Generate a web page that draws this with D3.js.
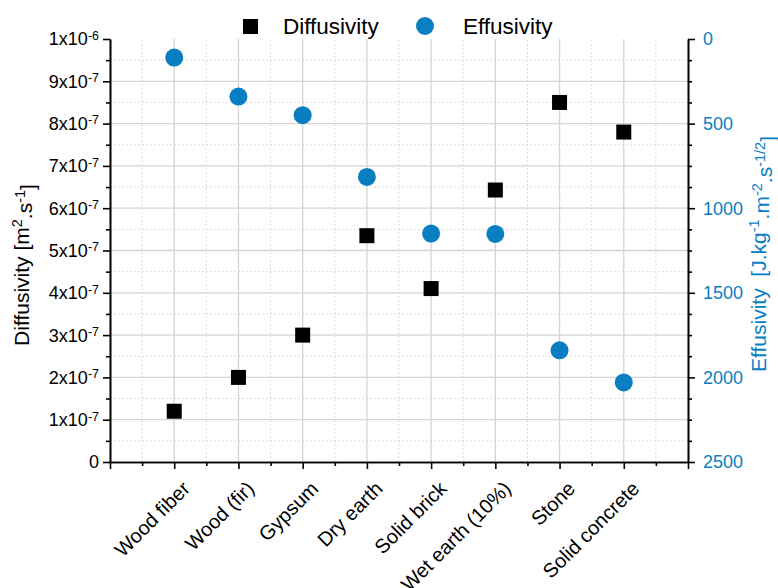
<!DOCTYPE html>
<html>
<head>
<meta charset="utf-8">
<script src="https://cdn.jsdelivr.net/npm/d3@7"></script>
<style>
  body { margin: 0; background: #fff; }
  svg { font-family: "Liberation Sans", Arial, sans-serif; }
</style>
</head>
<body>
<script>
// data
const materials = ["Wood fiber", "Wood (fir)", "Gypsum", "Dry earth", "Solid brick", "Wet earth (10%)", "Stone", "Solid concrete"];
const diffusivity = [1.2e-7, 2.0e-7, 3.0e-7, 5.35e-7, 4.1e-7, 6.43e-7, 8.5e-7, 7.8e-7];
const effusivity = [110, 340, 450, 815, 1150, 1152, 1840, 2030];
const leftTicks = [0, 1e-7, 2e-7, 3e-7, 4e-7, 5e-7, 6e-7, 7e-7, 8e-7, 9e-7, 1e-6];
const rightTicks = [0, 500, 1000, 1500, 2000, 2500];

const width = 778,
      height = 588,
      plotLeft = 110, plotRight = 688, plotTop = 39, plotBottom = 462,
      blue = "#0a7ec2",
      gridColor = "#d4d4d4";

const svg = d3.select("body").append("svg")
  .attr("width", width)
  .attr("height", height);

const x = d3.scaleLinear().domain([0, 9]).range([plotLeft, plotRight]);
const yL = d3.scaleLinear().domain([0, 1e-6]).range([plotBottom, plotTop]);
const yR = d3.scaleLinear().domain([0, 2500]).range([plotTop, plotBottom]);

const halves = d3.range(0.5, 9, 1);
const cats = d3.range(1, 9);

// grid -----------------------------------------------------------
const grid = svg.append("g");
grid.selectAll(".vmin").data(halves).enter().append("line")
  .attr("x1", d => x(d)).attr("x2", d => x(d))
  .attr("y1", plotBottom).attr("y2", plotTop)
  .attr("stroke", "#dedede").attr("stroke-dasharray", "2,2");
grid.selectAll(".hmin").data(d3.range(0.5e-7, 1e-6, 1e-7)).enter().append("line")
  .attr("x1", plotLeft).attr("x2", plotRight)
  .attr("y1", d => yL(d)).attr("y2", d => yL(d))
  .attr("stroke", "#dedede").attr("stroke-dasharray", "2,2");
grid.selectAll(".vmaj").data(cats).enter().append("line")
  .attr("x1", d => x(d)).attr("x2", d => x(d))
  .attr("y1", plotBottom).attr("y2", plotTop)
  .attr("stroke", gridColor).attr("stroke-width", 1.3);
grid.selectAll(".hmaj").data(leftTicks.slice(1, -1)).enter().append("line")
  .attr("x1", plotLeft).attr("x2", plotRight)
  .attr("y1", d => yL(d)).attr("y2", d => yL(d))
  .attr("stroke", gridColor).attr("stroke-width", 1.3);

// axes -----------------------------------------------------------
const axisStroke = g => g.selectAll("line, path").attr("stroke", "#000").attr("stroke-width", 1.6);

// x axis
const gx = svg.append("g").attr("transform", `translate(0,${plotBottom})`);
gx.call(d3.axisBottom(x).tickValues(halves).tickSize(4).tickFormat("").tickSizeOuter(0));
gx.append("g").call(d3.axisBottom(x).tickValues(d3.range(0, 10)).tickSize(7).tickFormat("").tickSizeOuter(0));
gx.call(axisStroke);
gx.selectAll(".xlab").data(cats).enter().append("text")
  .attr("transform", d => `translate(${x(d) + 7},18) rotate(-45)`)
  .attr("text-anchor", "end")
  .attr("dy", "0.7em")
  .attr("font-size", 20)
  .attr("fill", "#000")
  .text(d => materials[d - 1]);

// left axis
const gl = svg.append("g").attr("transform", `translate(${plotLeft},0)`);
gl.call(d3.axisLeft(yL).tickValues(d3.range(0.5e-7, 1e-6, 1e-7)).tickSize(4).tickFormat("").tickSizeOuter(0));
gl.append("g").call(d3.axisLeft(yL).tickValues(leftTicks).tickSize(7).tickFormat("").tickSizeOuter(0));
gl.call(axisStroke);
const ll = gl.selectAll(".ylab").data(leftTicks).enter().append("text")
  .attr("x", -11)
  .attr("y", d => yL(d))
  .attr("dy", "0.36em")
  .attr("text-anchor", "end")
  .attr("font-size", 18)
  .attr("fill", "#000");
ll.each(function(d) {
  const t = d3.select(this);
  if (d === 0) { t.text("0"); return; }
  const e = Math.floor(Math.log10(d) + 1e-9);
  const m = Math.round(d / Math.pow(10, e));
  t.append("tspan").text(m + "x10");
  t.append("tspan").attr("dy", "-0.45em").attr("font-size", 12.5).text(e);
});

// right axis
const gr = svg.append("g").attr("transform", `translate(${plotRight},0)`);
gr.call(d3.axisRight(yR).tickValues(d3.range(125, 2500, 125).filter(d => d % 500)).tickSize(4).tickFormat("").tickSizeOuter(0));
gr.append("g").call(d3.axisRight(yR).tickValues(rightTicks).tickSize(7).tickFormat("").tickSizeOuter(0));
gr.call(axisStroke);
gr.selectAll(".rlab").data(rightTicks).enter().append("text")
  .attr("x", 15)
  .attr("y", d => yR(d))
  .attr("dy", "0.36em")
  .attr("font-size", 18)
  .attr("fill", blue)
  .text(d => d);

// axis titles
const tl = svg.append("text")
  .attr("transform", "translate(29,265) rotate(-90)")
  .attr("text-anchor", "middle")
  .attr("font-size", 21)
  .attr("fill", "#000");
tl.append("tspan").text("Diffusivity [m");
tl.append("tspan").attr("dy", "-0.45em").attr("font-size", 14.5).text("2");
tl.append("tspan").attr("dy", "0.45em").text(".s");
tl.append("tspan").attr("dy", "-0.45em").attr("font-size", 14.5).text("-1");
tl.append("tspan").attr("dy", "0.45em").text("]");

const tr = svg.append("text")
  .attr("transform", "translate(766,254) rotate(-90)")
  .attr("text-anchor", "middle")
  .attr("font-size", 21)
  .attr("fill", blue)
  .attr("xml:space", "preserve");
tr.append("tspan").text("Effusivity  [J.kg");
tr.append("tspan").attr("dy", "-0.45em").attr("font-size", 14.5).text("-1");
tr.append("tspan").attr("dy", "0.45em").text(".m");
tr.append("tspan").attr("dy", "-0.45em").attr("font-size", 14.5).text("-2");
tr.append("tspan").attr("dy", "0.45em").text(".s");
tr.append("tspan").attr("dy", "-0.45em").attr("font-size", 14.5).text("-1/2");
tr.append("tspan").attr("dy", "0.45em").text("]");

// points ---------------------------------------------------------
const sq = 15;
svg.append("g").selectAll("rect").data(diffusivity).enter().append("rect")
  .attr("x", (d, i) => x(i + 1) - sq / 2)
  .attr("y", d => yL(d) - sq / 2)
  .attr("width", sq).attr("height", sq)
  .attr("fill", "#000");

svg.append("g").selectAll("circle").data(effusivity).enter().append("circle")
  .attr("cx", (d, i) => x(i + 1))
  .attr("cy", d => yR(d))
  .attr("r", 9)
  .attr("fill", blue);

// legend ---------------------------------------------------------
const lg = svg.append("g");
lg.append("rect").attr("x", 243).attr("y", 19).attr("width", 15).attr("height", 15).attr("fill", "#000");
lg.append("text").attr("x", 283).attr("y", 34).attr("font-size", 22.5).text("Diffusivity");
lg.append("circle").attr("cx", 425).attr("cy", 26).attr("r", 9).attr("fill", blue);
lg.append("text").attr("x", 463).attr("y", 34).attr("font-size", 22.5).text("Effusivity");
</script>
</body>
</html>
